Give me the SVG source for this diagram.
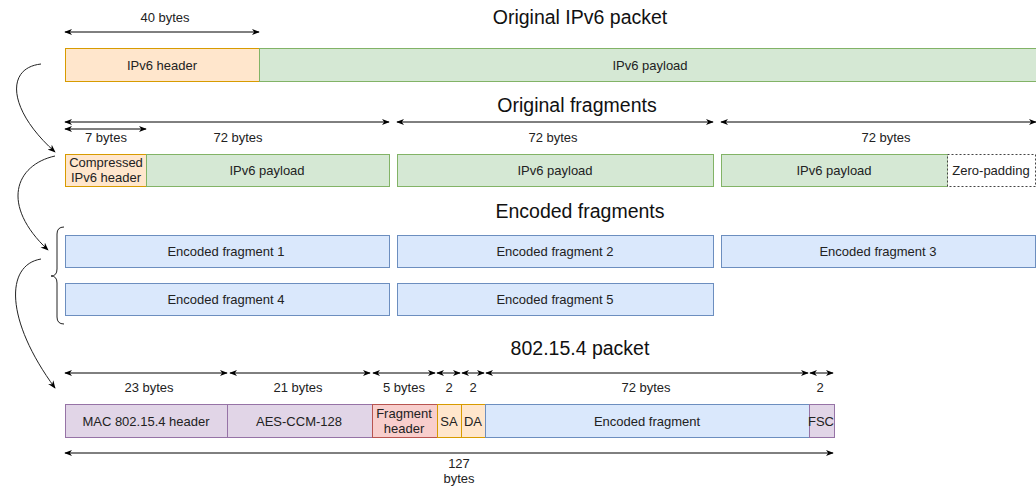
<svg xmlns="http://www.w3.org/2000/svg" width="1036" height="486" viewBox="0 0 1036 486">
<defs>
<marker id="ah" viewBox="0 0 10 10" refX="9" refY="5" markerWidth="8" markerHeight="8" orient="auto-start-reverse" markerUnits="userSpaceOnUse">
<path d="M0,1 L10,5 L0,9 L3,5 Z" fill="#000"/>
</marker>
<style>
text{font-family:"Liberation Sans",Arial,sans-serif;font-size:13px;fill:#222;text-anchor:middle;dominant-baseline:central}
.t{font-size:19.5px;fill:#111}
.or{fill:#ffe6cc;stroke:#d79b00}
.gr{fill:#d5e8d4;stroke:#82b366}
.bl{fill:#dae8fc;stroke:#6c8ebf}
.pu{fill:#e1d5e7;stroke:#9673a6}
.re{fill:#f8cecc;stroke:#b85450}
.zp{fill:#fff;stroke:#444;stroke-dasharray:2 2}
.dim{stroke:#000;stroke-width:1;fill:none;marker-start:url(#ah);marker-end:url(#ah)}
.cv{stroke:#222;stroke-width:1;fill:none;marker-end:url(#ah)}
</style>
</defs>
<text class="t" x="580" y="17">Original IPv6 packet</text>
<text class="t" x="577" y="105">Original fragments</text>
<text class="t" x="580" y="211">Encoded fragments</text>
<text class="t" x="580" y="348">802.15.4 packet</text>

<g id="connectors">
<line class="dim" x1="65" y1="32" x2="259" y2="32"/>
<line class="dim" x1="65" y1="122" x2="389" y2="122"/>
<line class="dim" x1="397" y1="122" x2="713" y2="122"/>
<line class="dim" x1="721" y1="122" x2="1036" y2="122"/>
<line class="dim" x1="65" y1="129" x2="146" y2="129"/>
<line class="dim" x1="65" y1="373" x2="227" y2="373"/>
<line class="dim" x1="230" y1="373" x2="370" y2="373"/>
<line class="dim" x1="373" y1="373" x2="435" y2="373"/>
<line class="dim" x1="437" y1="373" x2="460" y2="373"/>
<line class="dim" x1="462" y1="373" x2="484" y2="373"/>
<line class="dim" x1="486" y1="373" x2="808" y2="373"/>
<line class="dim" x1="810" y1="373" x2="833" y2="373"/>
<line class="dim" x1="65" y1="453" x2="833" y2="453"/>
<path class="cv" d="M41,64 C5,68 8,110 55,152"/>
<path class="cv" d="M55,156 C15,165 0,205 48,250"/>
<path class="cv" d="M41,259 C5,265 5,320 55,388"/>
<path d="M64,227 Q57,227 57,234 L57,269 Q57,276 51,276 Q57,276 57,283 L57,317 Q57,324 64,324" fill="none" stroke="#222"/>
</g>

<g id="labels">
<text x="165" y="17">40 bytes</text>
<text x="106" y="137">7 bytes</text>
<text x="238" y="137">72 bytes</text>
<text x="553" y="137">72 bytes</text>
<text x="886" y="137">72 bytes</text>
<text x="149" y="387">23 bytes</text>
<text x="298" y="387">21 bytes</text>
<text x="404" y="387">5 bytes</text>
<text x="449" y="387">2</text>
<text x="473" y="387">2</text>
<text x="646" y="387">72 bytes</text>
<text x="820" y="387">2</text>
<text x="459" y="463">127</text>
<text x="459" y="478">bytes</text>
</g>

<g id="ipv6-header"><rect class="or" x="65.5" y="48.5" width="194" height="33"/><text x="162" y="65">IPv6 header</text></g>
<g id="ipv6-payload"><rect class="gr" x="259.5" y="48.5" width="777" height="33"/><text x="650" y="65">IPv6 payload</text></g>

<g id="comp-header"><rect class="or" x="65.5" y="154.5" width="81" height="32"/><text x="106" y="162">Compressed</text><text x="106" y="177">IPv6 header</text></g>
<g id="frag1-payload"><rect class="gr" x="146.5" y="154.5" width="243" height="32"/><text x="267" y="170">IPv6 payload</text></g>
<g id="frag2-payload"><rect class="gr" x="397.5" y="154.5" width="316" height="32"/><text x="555" y="170">IPv6 payload</text></g>
<g id="frag3-payload"><rect class="gr" x="721.5" y="154.5" width="226" height="32"/><text x="834" y="170">IPv6 payload</text></g>
<g id="zero-padding"><rect class="zp" x="947.5" y="154.5" width="88" height="32"/><text x="991" y="170">Zero-padding</text></g>

<g id="enc1"><rect class="bl" x="65.5" y="235.5" width="324" height="32"/><text x="226" y="251">Encoded fragment 1</text></g>
<g id="enc2"><rect class="bl" x="397.5" y="235.5" width="316" height="32"/><text x="555" y="251">Encoded fragment 2</text></g>
<g id="enc3"><rect class="bl" x="721.5" y="235.5" width="314" height="32"/><text x="878" y="251">Encoded fragment 3</text></g>
<g id="enc4"><rect class="bl" x="65.5" y="283.5" width="324" height="32"/><text x="226" y="299">Encoded fragment 4</text></g>
<g id="enc5"><rect class="bl" x="397.5" y="283.5" width="316" height="32"/><text x="555" y="299">Encoded fragment 5</text></g>

<g id="mac"><rect class="pu" x="65.5" y="404.5" width="162" height="33"/><text x="146" y="421">MAC 802.15.4 header</text></g>
<g id="aes"><rect class="pu" x="227.5" y="404.5" width="145" height="33"/><text x="299" y="421">AES-CCM-128</text></g>
<g id="frag-header"><rect class="re" x="372.5" y="404.5" width="65" height="33"/><text x="404" y="413">Fragment</text><text x="404" y="428">header</text></g>
<g id="sa"><rect class="or" x="437.5" y="404.5" width="24" height="33"/><text x="449" y="421">SA</text></g>
<g id="da"><rect class="or" x="461.5" y="404.5" width="24" height="33"/><text x="473" y="421">DA</text></g>
<g id="enc-frag"><rect class="bl" x="485.5" y="404.5" width="324" height="33"/><text x="647" y="421">Encoded fragment</text></g>
<g id="fsc"><rect class="pu" x="809.5" y="404.5" width="25" height="33"/><text x="821" y="421">FSC</text></g>
</svg>
